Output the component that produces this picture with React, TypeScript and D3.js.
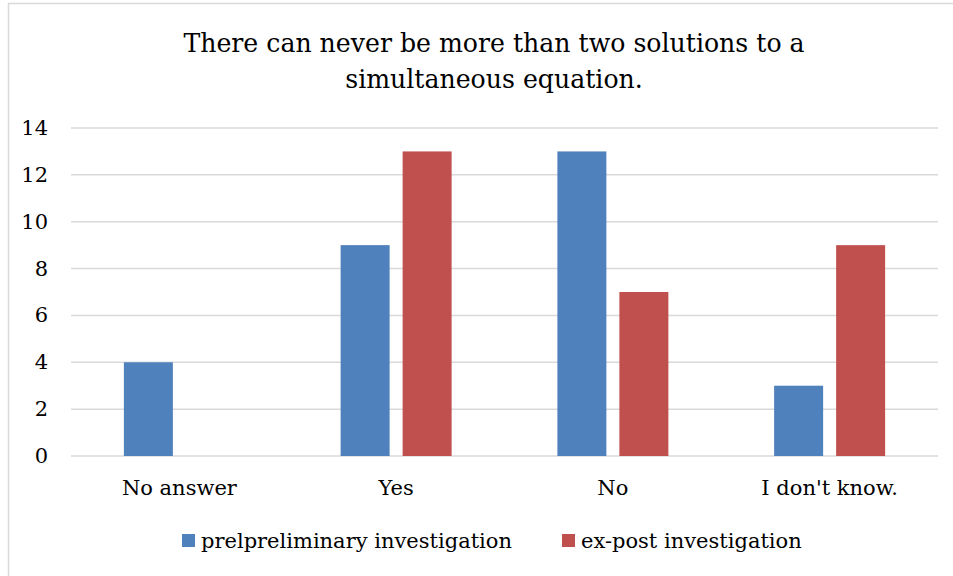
import React from "react";
import * as d3 from "d3";

const categories = ["No answer", "Yes", "No", "I don't know."];
const seriesNames = ["prelpreliminary investigation", "ex-post investigation"];
const preliminary = [4, 9, 13, 3];
const expost = [0, 13, 7, 9];
const yTicks = [0, 2, 4, 6, 8, 10, 12, 14];
const titleLines = ["There can never be more than two solutions to a", "simultaneous equation."];

const colors = ["#4F81BD", "#C0504D"];
const FONT = "'DejaVu Serif', 'Liberation Serif', serif";

export default function App() {
  const W = 953;
  const H = 576;
  const left = 71;
  const right = 938;
  const top = 128;
  const bottom = 456;

  const x = d3.scaleBand<string>().domain(categories).range([left, right]);
  const y = d3.scaleLinear().domain([0, 14]).range([bottom, top]);
  const barW = 49;
  const gap = 13;
  const series = [preliminary, expost];

  return (
    <svg
      width={W}
      height={H}
      style={{ position: "absolute", left: 0, top: 0, background: "#fff" }}
      fontFamily={FONT}
    >
      <rect x={8.5} y={3.5} width={W} height={H} fill="#fff" stroke="#D9D9D9" strokeWidth={1.5} />
      {titleLines.map((t, i) => (
        <text key={i} x={494} y={52 + i * 36} textAnchor="middle" fontSize={25.2} fill="#000">
          {t}
        </text>
      ))}
      {yTicks.map((v) => (
        <g key={v}>
          <line x1={left} x2={right} y1={y(v)} y2={y(v)} stroke="#D9D9D9" strokeWidth={1.5} />
          <text x={48} y={y(v) + 7} textAnchor="end" fontSize={21} fill="#000">
            {v}
          </text>
        </g>
      ))}
      {categories.map((c, ci) => {
        const cx = x(c)! + x.bandwidth() / 2;
        const groupW = barW * 2 + gap;
        return (
          <g key={c}>
            {series.map((s, si) => {
              const v = s[ci];
              if (!v) return null;
              const bx = cx - groupW / 2 + si * (barW + gap);
              return (
                <rect key={si} x={bx} y={y(v)} width={barW} height={y(0) - y(v)} fill={colors[si]} />
              );
            })}
            <text x={cx} y={495} textAnchor="middle" fontSize={21} fill="#000">
              {c}
            </text>
          </g>
        );
      })}
      {seriesNames.map((n, i) => {
        const lx = [182, 562][i];
        return (
          <g key={n}>
            <rect x={lx} y={534} width={13} height={13} fill={colors[i]} />
            <text x={lx + 19} y={548} fontSize={21} fill="#000">
              {n}
            </text>
          </g>
        );
      })}
    </svg>
  );
}
